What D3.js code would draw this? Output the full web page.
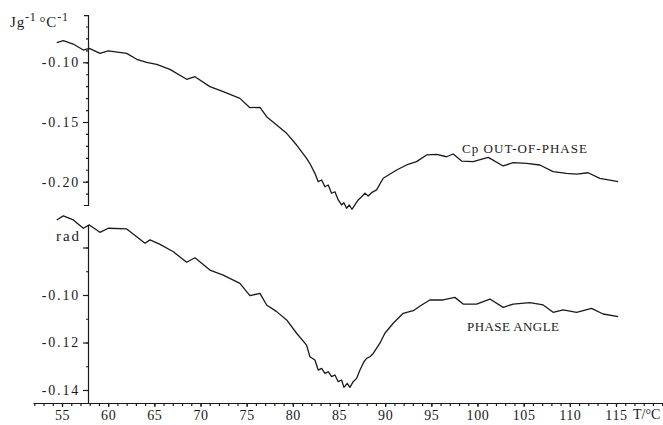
<!DOCTYPE html>
<html>
<head>
<meta charset="utf-8">
<script src="https://cdn.jsdelivr.net/npm/d3@7"></script>
<style>
  body { margin: 0; background: #fff; }
  svg { display: block; }
  text { font-family: "Liberation Serif", "DejaVu Serif", serif; fill: #1a1a1a; }
</style>
</head>
<body>
<svg id="chart" width="663" height="425"></svg>
<script>
// Cp out-of-phase (J g^-1 °C^-1) against T/°C
var cpTemp = [54.43, 55.14, 56.22, 57.31, 57.96, 59.11, 60.01, 62.01, 63.09, 64.17, 65.25, 66.69,
  68.50, 69.40, 71.02, 72.46, 74.27, 75.35, 76.44, 77.16, 78.25, 79.33, 80.41, 81.49, 81.85,
  82.39, 82.75, 83.12, 83.48, 83.83, 84.20, 84.56, 84.92, 85.28, 85.53, 85.82, 86.11, 86.40,
  86.72, 87.08, 87.45, 87.81, 88.16, 88.53, 89.07, 89.79, 91.24, 92.32, 93.40, 94.49, 95.57,
  96.65, 97.37, 98.28, 99.53, 101.16, 102.78, 103.86, 105.31, 106.75, 108.19, 109.64, 110.73,
  111.98, 113.25, 114.33, 115.23];
var cpValue = [-0.0836, -0.0819, -0.0847, -0.0897, -0.0883, -0.0925, -0.0905, -0.0925, -0.0975,
  -0.1000, -0.1017, -0.1059, -0.1142, -0.1121, -0.1204, -0.1246, -0.1302, -0.1380, -0.1377,
  -0.1456, -0.1525, -0.1595, -0.1693, -0.1804, -0.1848, -0.1930, -0.2000, -0.1986, -0.2042,
  -0.2028, -0.2097, -0.2084, -0.2153, -0.2195, -0.2176, -0.2223, -0.2195, -0.2231, -0.2195,
  -0.2153, -0.2126, -0.2097, -0.2120, -0.2092, -0.2069, -0.1971, -0.1902, -0.1860, -0.1832,
  -0.1776, -0.1771, -0.1791, -0.1768, -0.1827, -0.1832, -0.1796, -0.1868, -0.1841, -0.1846,
  -0.1860, -0.1916, -0.1930, -0.1936, -0.1925, -0.1972, -0.1986, -0.2000];

// phase angle (rad)
var phaseTemp = [54.43, 55.14, 56.22, 57.31, 57.96, 59.11, 60.01, 62.01, 63.09, 63.99, 64.53,
  65.62, 67.06, 68.50, 69.40, 71.02, 72.46, 74.27, 75.35, 76.44, 77.16, 78.25, 79.33, 80.41,
  81.49, 81.85, 82.39, 82.75, 83.12, 83.48, 83.83, 84.20, 84.56, 84.92, 85.28, 85.53, 85.89,
  86.18, 86.54, 86.91, 87.27, 87.70, 87.99, 88.35, 88.71, 89.43, 89.97, 90.87, 91.95, 93.04,
  93.95, 94.84, 96.28, 97.55, 98.45, 99.90, 101.34, 102.78, 103.86, 105.67, 107.11, 108.19,
  109.28, 110.73, 112.35, 113.61, 115.23];
var phaseValue = [-0.0684, -0.0667, -0.0684, -0.0719, -0.0705, -0.0736, -0.0719, -0.0722,
  -0.0755, -0.0782, -0.0768, -0.0787, -0.0818, -0.0862, -0.0843, -0.0895, -0.0916, -0.0951,
  -0.1003, -0.0993, -0.1042, -0.1070, -0.1105, -0.1161, -0.1211, -0.1260, -0.1274, -0.1316,
  -0.1309, -0.1330, -0.1323, -0.1344, -0.1337, -0.1365, -0.1358, -0.1389, -0.1372, -0.1389,
  -0.1365, -0.1351, -0.1316, -0.1281, -0.1267, -0.1260, -0.1246, -0.1203, -0.1161, -0.1119,
  -0.1077, -0.1066, -0.1042, -0.1021, -0.1021, -0.1010, -0.1038, -0.1038, -0.1017, -0.1052,
  -0.1038, -0.1032, -0.1042, -0.1073, -0.1063, -0.1073, -0.1056, -0.1080, -0.1091];

var xTicks = [55, 60, 65, 70, 75, 80, 85, 90, 95, 100, 105, 110, 115];
var cpTicks = [-0.10, -0.15, -0.20];
var phaseTicks = [-0.08, -0.10, -0.12, -0.14];
var phaseTickLabels = ["", "-0.10", "-0.12", "-0.14"];

var svg = d3.select("#chart");
var ink = "#1a1a1a";

var x = d3.scaleLinear().domain([55, 115]).range([62, 616]);
var yCp = d3.scaleLinear().domain([-0.20, -0.10]).range([181.7, 62.3]);
var yPh = d3.scaleLinear().domain([-0.14, -0.10]).range([390, 295]);

var fmt = d => d === 0 ? "0" : "-" + Math.abs(d).toFixed(2);

var styleAxis = function(g) {
  g.selectAll("path, line").attr("stroke", ink).attr("stroke-width", 1.2);
  g.selectAll("text").attr("fill", ink);
};

// x axis
var xAxisScale = x.copy().domain([51.86, 120.1]).range([x(51.86), x(120.1)]);
var minorT = d3.range(52, 121, 1);
svg.append("g")
    .attr("transform", "translate(0,403)")
    .call(d3.axisBottom(xAxisScale).tickValues(minorT).tickSize(3).tickSizeOuter(0).tickFormat(""))
    .call(styleAxis);
svg.append("g")
    .attr("transform", "translate(0,403)")
    .call(d3.axisBottom(x).tickValues(xTicks).tickSize(4).tickSizeOuter(0).tickPadding(3))
    .call(g => g.select(".domain").remove())
    .call(styleAxis)
    .selectAll("text")
      .style("font-size", "14px")
      .style("letter-spacing", "0.6px")
      .style("font-family", "Liberation Serif");

svg.append("text")
    .attr("x", 633).attr("y", 419)
    .style("font-size", "14px")
    .text("T/\u00B0C");

// upper y axis (Cp out-of-phase)
var yCpAxis = yCp.copy().domain([-0.2195, -0.0605]).range([yCp(-0.2195), yCp(-0.0605)]);
svg.append("g")
    .attr("transform", "translate(88,0)")
    .call(d3.axisLeft(yCpAxis).tickValues(d3.range(-0.21, -0.065, 0.01)).tickSize(2).tickSizeOuter(4).tickFormat(""))
    .call(styleAxis);
svg.append("g")
    .attr("transform", "translate(88,0)")
    .call(d3.axisLeft(yCp).tickValues(cpTicks).tickSize(5).tickPadding(3).tickFormat(fmt))
    .call(g => g.select(".domain").remove())
    .call(styleAxis)
    .selectAll("text")
      .style("font-size", "14px")
      .style("letter-spacing", "1.8px")
      .style("font-family", "Liberation Serif");

var unit = svg.append("text")
    .attr("x", 10).attr("y", 27)
    .style("font-size", "15px")
    .style("letter-spacing", "0.8px");
unit.append("tspan").text("Jg");
unit.append("tspan").attr("dy", -6).style("font-size", "12px").text("-1");
unit.append("tspan").attr("dy", 6).attr("dx", 3).text("\u00B0C");
unit.append("tspan").attr("dy", -6).style("font-size", "12px").text("-1");

// lower y axis (phase angle)
var yPhAxis = yPh.copy().domain([-0.1455, -0.0705]).range([yPh(-0.1455), yPh(-0.0705)]);
svg.append("g")
    .attr("transform", "translate(88,0)")
    .call(d3.axisLeft(yPhAxis).tickValues(d3.range(-0.14, -0.075, 0.01)).tickSize(2).tickSizeOuter(0).tickFormat(""))
    .call(styleAxis);
svg.append("g")
    .attr("transform", "translate(88,0)")
    .call(d3.axisLeft(yPh).tickValues(phaseTicks).tickSize(5).tickPadding(3)
      .tickFormat((d, i) => phaseTickLabels[i]))
    .call(g => g.select(".domain").remove())
    .call(styleAxis)
    .selectAll("text")
      .style("font-size", "14px")
      .style("letter-spacing", "1.8px")
      .style("font-family", "Liberation Serif");

svg.append("text")
    .attr("x", 56).attr("y", 241)
    .attr("textLength", 23).attr("lengthAdjust", "spacing")
    .style("font-size", "15px")
    .text("rad");

// traces
var cpLine = d3.line()
    .x(i => x(cpTemp[i]))
    .y(i => yCp(cpValue[i]));
var phLine = d3.line()
    .x(i => x(phaseTemp[i]))
    .y(i => yPh(phaseValue[i]));

svg.append("path")
    .attr("fill", "none")
    .attr("stroke", ink)
    .attr("stroke-width", 1.3)
    .attr("stroke-linejoin", "round")
    .attr("d", cpLine(d3.range(cpTemp.length)));

svg.append("path")
    .attr("fill", "none")
    .attr("stroke", ink)
    .attr("stroke-width", 1.3)
    .attr("stroke-linejoin", "round")
    .attr("d", phLine(d3.range(phaseTemp.length)));

svg.append("text")
    .attr("x", 462).attr("y", 153)
    .attr("textLength", 125).attr("lengthAdjust", "spacing")
    .style("font-size", "13px")
    .text("Cp OUT-OF-PHASE");

svg.append("text")
    .attr("x", 467).attr("y", 331)
    .attr("textLength", 92).attr("lengthAdjust", "spacing")
    .style("font-size", "13px")
    .text("PHASE  ANGLE");
</script>
</body>
</html>
